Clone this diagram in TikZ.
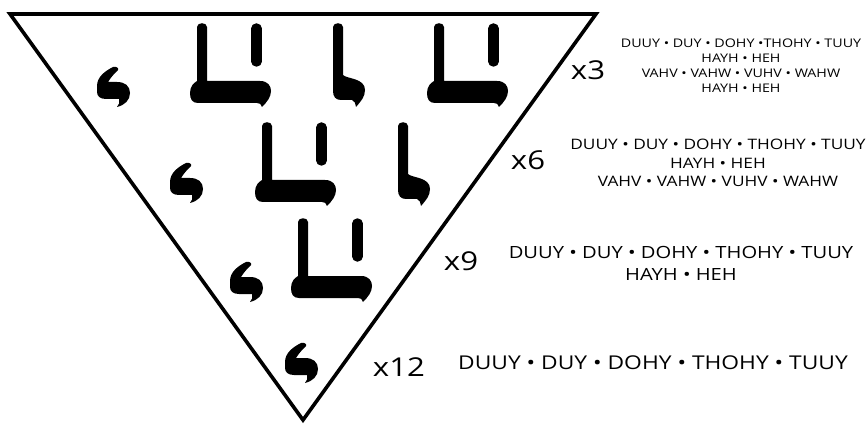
\documentclass[tikz,border=0pt]{standalone}
\usepackage{fontspec}
\newfontfamily\lbl[FakeStretch=1.2]{Open Sans}
\begin{document}
\begin{tikzpicture}[x=1pt,y=-1pt,
  every node/.style={inner sep=0pt},
  mult/.style={font=\lbl\fontsize{26}{30}\selectfont},
  names/.style={align=center},
  edge/.style={line width=3.6pt,line join=miter},
  hookglyph/.pic={\fill (16,0) .. controls (8,4) and (0,10) .. (0,19) -- (0,25) .. controls (0,29) and (3,32) .. (9,32) -- (22,32) .. controls (23,35) and (22,38) .. (20,40) .. controls (28,38) and (33,33) .. (33,26) .. controls (33,19) and (28,15) .. (20,15) -- (11,15) .. controls (14,10) and (18,6) .. (21,3) .. controls (22,1) and (19,-1) .. (16,0) -- cycle;},
  ellglyph/.pic={\fill (0,4) .. controls (0,-1) and (10,-1) .. (10,4) -- (10,52) .. controls (14,56) and (32,55) .. (32,67) .. controls (32,74) and (28,78) .. (23,84) .. controls (22,80) and (22,78) .. (19,77) -- (8,77) .. controls (3,77) and (0,74) .. (0,68) -- cycle;},
  bigglyph/.pic={\fill (7,4) .. controls (7,-1) and (17,-1) .. (17,4) -- (17,58) -- (70,58) .. controls (78,58) and (81,63) .. (81,68) .. controls (81,74) and (77,79) .. (72,84) .. controls (71,81) and (70,80) .. (67,80) -- (8,80) .. controls (2,80) and (0,76) .. (0,70) .. controls (0,63) and (4,60) .. (7,58) -- cycle;
    \draw[line width=10.5pt,line cap=round] (66.5,5.5) -- (66.5,38.5);}
]
\fill[white] (0,0) rectangle (868,425);
\useasboundingbox (0,0) rectangle (868,425);
% triangle
\coordinate (tl) at (10,14);
\coordinate (tr) at (596,14);
\coordinate (bt) at (303,420);
\draw[edge] (tl) -- (tr) -- (bt) -- cycle;
% row 1
\pic at (97,67) {hookglyph};
\pic at (190,23) {bigglyph};
\pic at (333,23) {ellglyph};
\pic at (427,23) {bigglyph};
% row 2
\pic at (170,163) {hookglyph};
\pic at (255,122) {bigglyph};
\pic at (398,122) {ellglyph};
% row 3
\pic at (230,262) {hookglyph};
\pic at (291,218) {bigglyph};
% row 4
\pic at (285,343) {hookglyph};
% multipliers
\node[mult] (m3) at (588,70) {x3};
\node[mult] (m6) at (528,160) {x6};
\node[mult] (m9) at (461,261) {x9};
\node[mult] (m12) at (399,367) {x12};
% name lists
\node[names,font=\lbl\fontsize{11.9}{15}\selectfont] (t3) at (741,65.5) {DUUY • DUY • DOHY •THOHY • TUUY\\HAYH • HEH\\VAHV • VAHW • VUHV • WAHW\\HAYH • HEH};
\node[names,font=\lbl\fontsize{14.4}{18.5}\selectfont] (t6) at (718,163) {DUUY • DUY • DOHY • THOHY • TUUY\\HAYH • HEH\\VAHV • VAHW • VUHV • WAHW};
\node[names,font=\lbl\fontsize{16.8}{22}\selectfont] (t9) at (681,263) {DUUY • DUY • DOHY • THOHY • TUUY\\HAYH • HEH};
\node[names,font=\lbl\fontsize{19}{24}\selectfont] (t12) at (653,363) {DUUY • DUY • DOHY • THOHY • TUUY};
\end{tikzpicture}
\end{document}
